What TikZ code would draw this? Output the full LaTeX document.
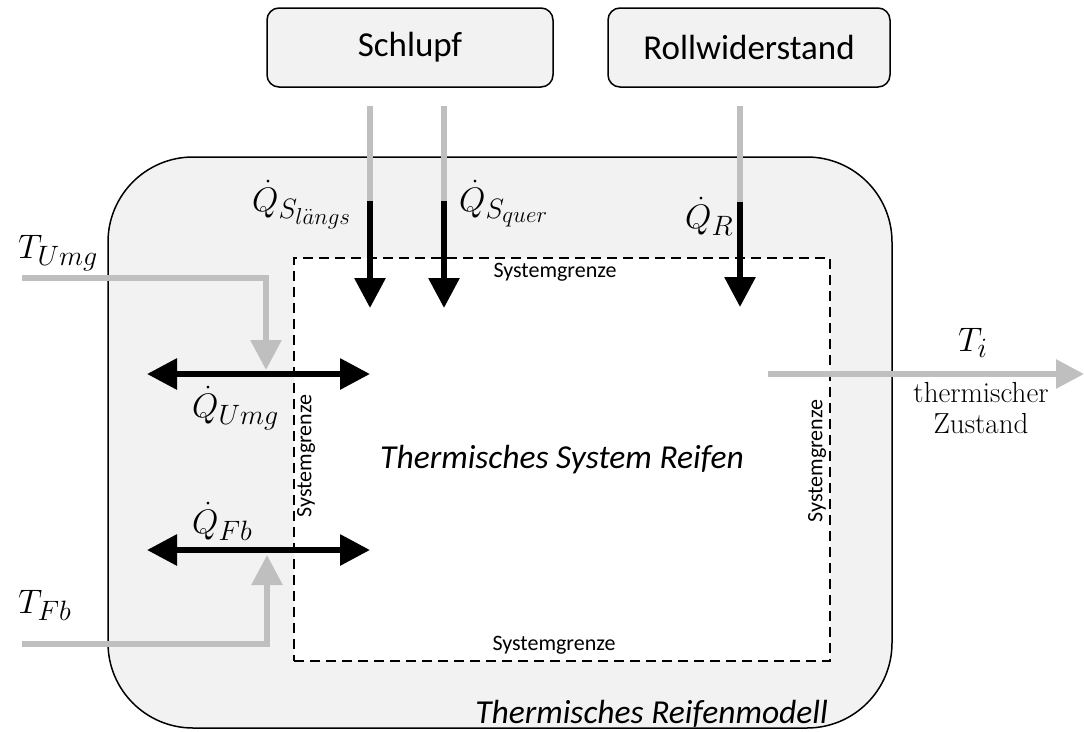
\RequirePackage{fix-cm}
\documentclass[tikz,border=0pt]{standalone}
\usepackage{fontspec}
\usetikzlibrary{arrows.meta}
\newfontfamily\calibri{Carlito}
\DeclareMathSizes{34}{34}{28}{23}
\definecolor{panel}{RGB}{242,242,242}
\definecolor{flowgray}{RGB}{191,191,191}
\begin{document}
\begin{tikzpicture}[x=1pt,y=-1pt,
  topbox/.style={draw=black, line width=1.5pt, fill=panel, rounded corners=12pt,
    inner sep=0pt, font=\calibri\fontsize{35}{40}\selectfont},
  grayflow/.style={draw=flowgray, line width=6pt},
  blackflow/.style={draw=black, line width=6pt},
  headtip/.style={-{Triangle[width=30pt,length=30pt]}},
  bothtips/.style={{Triangle[width=30pt,length=30pt]}-{Triangle[width=30pt,length=30pt]}},
  mathlbl/.style={inner sep=0pt, font=\fontsize{34}{40}\selectfont},
  grenze/.style={inner sep=0pt, font=\calibri\fontsize{22}{26}\selectfont},
  bigital/.style={inner sep=0pt, font=\calibri\itshape\fontsize{33.5}{40}\selectfont}
]
\useasboundingbox (0,0) rectangle (1084,731);

% outer model box
\node[draw=black, line width=1.5pt, fill=panel, rounded corners=85pt,
  minimum width=784pt, minimum height=571pt, inner sep=0pt] (model) at (500,442.5) {};
% inner system boundary
\node[draw=black, line width=1.5pt, dash pattern=on 10pt off 6pt, fill=white,
  minimum width=536pt, minimum height=403pt, inner sep=0pt] (system) at (562,459.5) {};

% top boxes
\node[topbox, minimum width=286pt, minimum height=79pt] (schlupf) at (410,47.5) {Schlupf};
\node[topbox, minimum width=282pt, minimum height=79pt] (roll) at (749,47.5) {Rollwiderstand};

% coordinates
\coordinate (sl1) at (370,106); \coordinate (sl2) at (370,201); \coordinate (sl3) at (370,308);
\coordinate (sq1) at (444,106); \coordinate (sq2) at (444,201); \coordinate (sq3) at (444,308);
\coordinate (r1) at (740,106);  \coordinate (r2) at (740,202);  \coordinate (r3) at (740,307);
\coordinate (tu1) at (22,278);  \coordinate (tu2) at (266,278); \coordinate (tu3) at (266,370);
\coordinate (qu1) at (147,374); \coordinate (qu2) at (370,374);
\coordinate (tf1) at (22,644);  \coordinate (tf2) at (267,644); \coordinate (tf3) at (267,555);
\coordinate (qf1) at (147,550); \coordinate (qf2) at (370,550);
\coordinate (ti1) at (768,374); \coordinate (ti2) at (1084,374);

% heat inputs from top
\draw[grayflow] (sl1) -- (sl2);
\draw[blackflow, headtip] (sl2) -- (sl3);
\draw[grayflow] (sq1) -- (sq2);
\draw[blackflow, headtip] (sq2) -- (sq3);
\draw[grayflow] (r1) -- (r2);
\draw[blackflow, headtip] (r2) -- (r3);

% left side
\draw[grayflow, headtip] (tu1) -- (tu2) -- (tu3);
\draw[blackflow, bothtips] (qu1) -- (qu2);
\draw[grayflow, headtip] (tf1) -- (tf2) -- (tf3);
\draw[blackflow, bothtips] (qf1) -- (qf2);

% output
\draw[grayflow, -{Triangle[width=28pt,length=28pt]}] (ti1) -- (ti2);

% labels
\node[mathlbl, anchor=base west] (lQl) at (252,211) {$\dot{Q}_{S_{l\ddot{a}ngs}}$};
\node[mathlbl, anchor=base west] (lQq) at (459,211) {$\dot{Q}_{S_{quer}}$};
\node[mathlbl, anchor=base west] (lQR) at (685,228) {$\dot{Q}_{R}$};
\node[mathlbl, anchor=base west] (lTU) at (18,258) {$T_{Umg}$};
\node[mathlbl, anchor=base west] (lQU) at (192,417) {$\dot{Q}_{Umg}$};
\node[mathlbl, anchor=base west] (lQF) at (192,533) {$\dot{Q}_{Fb}$};
\node[mathlbl, anchor=base west] (lTF) at (18,613) {$T_{Fb}$};
\node[mathlbl, anchor=base west] (lTi) at (958,351) {$T_{i}$};
\node[inner sep=0pt, anchor=base, align=center, font=\fontsize{29}{31}\selectfont] (lzust) at (981,433) {thermischer\\Zustand};

\node[bigital, anchor=base] (lsys) at (562,468) {Thermisches System Reifen};
\node[bigital, anchor=base east] (lmod) at (828,723) {Thermisches Reifenmodell};

\node[grenze] (g1) at (555,272) {Systemgrenze};
\node[grenze] (g2) at (554,645) {Systemgrenze};
\node[grenze, rotate=90] (g3) at (306,456) {Systemgrenze};
\node[grenze, rotate=90] (g4) at (817,461) {Systemgrenze};
\end{tikzpicture}
\end{document}
